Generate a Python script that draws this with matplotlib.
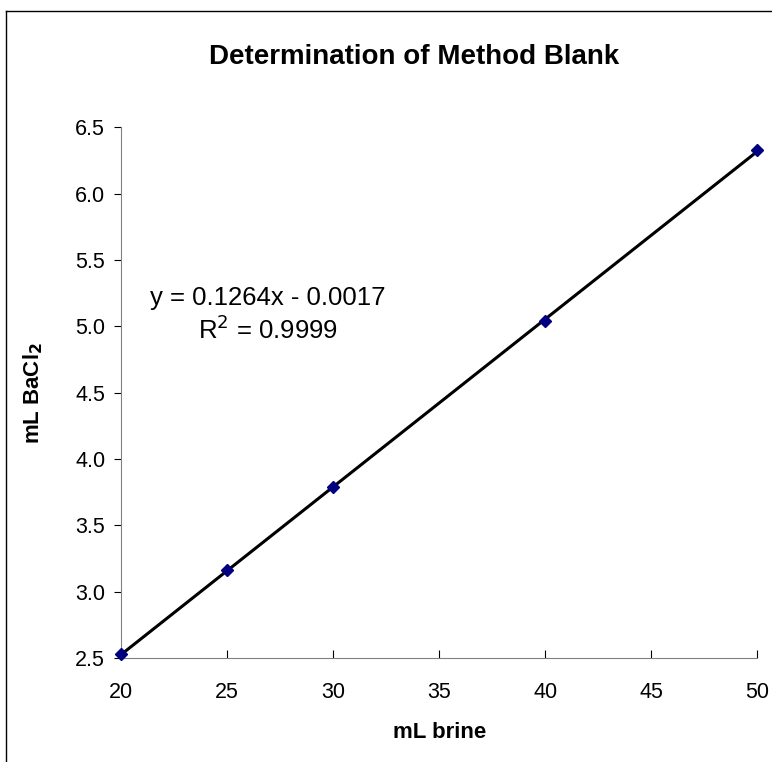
import matplotlib
matplotlib.use("Agg")
import matplotlib.pyplot as plt
from matplotlib.lines import Line2D

plt.rcParams['font.family'] = ['Liberation Sans', 'DejaVu Sans']

brine = [20, 25, 30, 40, 50]
bacl2 = [2.53, 3.16, 3.79, 5.04, 6.33]
slope = 0.1264
intercept = -0.0017
xticks = [20, 25, 30, 35, 40, 45, 50]
yticks = [2.5, 3.0, 3.5, 4.0, 4.5, 5.0, 5.5, 6.0, 6.5]


def main():
    fig = plt.figure(figsize=(7.72, 7.62), dpi=100)
    ax = fig.add_axes([0.157, 0.1365, 0.824, 0.6965])

    xs = [min(brine), max(brine)]
    ax.plot(xs, [slope * x + intercept for x in xs], '-', color='black', lw=2.2, zorder=2)
    ax.plot(brine, bacl2, 'D', color='#000080', ms=6.5, zorder=3, clip_on=False)

    ax.set_xlim(20, 50)
    ax.set_ylim(2.5, 6.5)
    ax.set_xticks(xticks)
    ax.set_yticks(yticks)
    ax.set_yticklabels(['%.1f' % v for v in yticks])
    ax.tick_params(axis='x', direction='in', length=6, labelsize=15.5, pad=17)
    ax.tick_params(axis='y', direction='out', length=5, labelsize=15.5, pad=6.5)
    ax.spines['top'].set_visible(False)
    ax.spines['right'].set_visible(False)
    for s in ('left', 'bottom'):
        ax.spines[s].set_color('#808080')

    ax.set_xlabel('mL brine', fontsize=16, fontweight='bold', labelpad=14)
    ax.set_ylabel(r'mL BaCl$_\mathbf{2}$', fontsize=16, fontweight='bold', labelpad=22)

    ax.text(0.231, 0.646, 'y = 0.1264x - 0.0017\nR$^2$ = 0.9999', transform=ax.transAxes,
            ha='center', va='center', fontsize=18.5, linespacing=1.25)

    fig.text(0.536, 0.925, 'Determination of Method Blank', ha='center', va='center',
             fontsize=20, fontweight='bold')

    fig.add_artist(Line2D([6 / 772, 6 / 772], [0, 1 - 11 / 762], color='black', lw=1))
    fig.add_artist(Line2D([6 / 772, 1], [1 - 11 / 762, 1 - 11 / 762], color='black', lw=1))

    fig.savefig('out.png', dpi=100)


if __name__ == "__main__":
    main()
